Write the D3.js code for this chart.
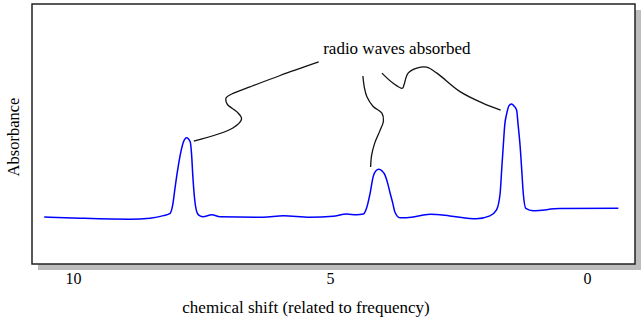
<!DOCTYPE html>
<html>
<head>
<meta charset="utf-8">
<script src="https://cdn.jsdelivr.net/npm/d3@7"></script>
<style>
  body { margin: 0; background: #fff; }
  text { font-family: "Liberation Serif", "Times New Roman", serif; fill: #000; }
</style>
</head>
<body>
<svg id="chart" width="644" height="322"></svg>
<script>
// spectrum: chemical shift (ppm) and absorbance (0-100)
var shift = [10.56, 9.86, 8.89, 8.50, 8.24, 8.11, 8.06, 8.02, 7.97, 7.92, 7.85, 7.79, 7.72, 7.69, 7.67, 7.65, 7.62, 7.58, 7.53, 7.47, 7.30, 7.14,
             6.30, 5.91, 5.39, 4.94, 4.68, 4.48, 4.35, 4.29, 4.22, 4.16, 4.11, 4.05, 3.99, 3.93, 3.88, 3.83, 3.78, 3.74, 3.64, 3.51,
             3.05, 2.67, 2.15, 1.89, 1.76, 1.69, 1.66, 1.63, 1.60, 1.56, 1.52, 1.47, 1.42, 1.37, 1.34, 1.30, 1.27, 1.24, 1.19, 1.05,
             0.53, -0.61]
var absorb = [18.1, 17.6, 17.2, 17.6, 18.6, 19.5, 22.7, 28.5, 35.4, 41.3, 47.0, 48.6, 47.0, 41.3, 34.2, 28.5, 22.7, 19.5, 18.5, 18.2, 18.9, 18.2,
              18.0, 18.6, 18.0, 18.4, 19.2, 18.9, 19.2, 21.4, 27.2, 33.6, 35.8, 36.4, 35.8, 34.2, 31.2, 27.2, 23.5, 20.1, 17.8, 17.8,
              19.1, 18.5, 17.4, 18.5, 20.8, 27.2, 36.2, 45.1, 53.5, 58.0, 60.8, 61.5, 60.8, 59.2, 53.5, 45.1, 36.2, 27.2, 21.4, 20.5,
              21.3, 21.4]

var tickValues = [10, 5, 0]
var xTitle = "chemical shift (related to frequency)"
var yTitle = "Absorbance"
var noteText = "radio waves absorbed"
var notePos = [3.70, 80.8]

// hand-drawn leader lines, in the same units [ppm, absorbance]
var leaders = [
  [[7.65, 47.3], [6.89, 52.3], [6.72, 55.8], [6.81, 58.5], [7.00, 61.5], [7.02, 63.9], [6.91, 65.4], [6.56, 68.1], [5.97, 72.5], [5.22, 77.7]],
  [[4.36, 72.3], [4.33, 67.7], [4.28, 64.2], [4.16, 60.6], [3.99, 58.0], [3.96, 55.0], [4.03, 51.2], [4.13, 46.5], [4.19, 41.9], [4.21, 37.3]],
  [[3.99, 73.4], [3.77, 69.5], [3.59, 67.6], [3.56, 68.9], [3.48, 73.4], [3.31, 75.3], [3.12, 75.7], [2.92, 73.4], [2.47, 66.3], [2.02, 61.8], [1.68, 59.2]]
]

var svg = d3.select("#chart")

var frame = {left: 32, top: 4, right: 635, bottom: 264}

var x = d3.scaleLinear().domain([10, 0]).range([73, 587])
var y = d3.scaleLinear().domain([0, 100]).range([frame.bottom, frame.top])

// drop shadow + box
svg.append("rect")
    .attr("x", frame.left + 6)
    .attr("y", frame.top + 6)
    .attr("width", frame.right - frame.left)
    .attr("height", frame.bottom - frame.top)
    .style("fill", "#bdbdbd")

svg.append("rect")
    .attr("x", frame.left)
    .attr("y", frame.top)
    .attr("width", frame.right - frame.left)
    .attr("height", frame.bottom - frame.top)
    .style("fill", "white")
    .style("stroke", "#222")
    .style("stroke-width", "1.5px")

var pts = shift.map(function(d, i) { return [d, absorb[i]] })

var line = d3.line()
    .x(function(d) { return x(d[0]) })
    .y(function(d) { return y(d[1]) })
    .curve(d3.curveMonotoneX)

svg.append("path")
    .datum(pts)
    .attr("d", line)
    .style("fill", "none")
    .style("stroke", "#0000ff")
    .style("stroke-width", "1.5px")

var leaderLine = d3.line()
    .x(function(d) { return x(d[0]) })
    .y(function(d) { return y(d[1]) })
    .curve(d3.curveCatmullRom.alpha(0.5))

svg.selectAll("path.leader")
    .data(leaders)
    .join("path")
    .classed("leader", true)
    .attr("d", leaderLine)
    .style("fill", "none")
    .style("stroke", "#111")
    .style("stroke-width", "1.3px")

svg.append("text")
    .attr("x", x(notePos[0]))
    .attr("y", y(notePos[1]))
    .attr("text-anchor", "middle")
    .style("font-size", "17px")
    .text(noteText)

// x axis: labels only
var axis = svg.append("g")
    .attr("transform", "translate(0," + frame.bottom + ")")
    .call(d3.axisBottom(x).tickValues(tickValues).tickSize(0).tickPadding(9))

axis.select(".domain").remove()
axis.selectAll("text")
    .style("font-size", "16px")
    .style("font-family", "Liberation Serif, serif")

svg.append("text")
    .attr("x", 306)
    .attr("y", 313)
    .attr("text-anchor", "middle")
    .style("font-size", "17px")
    .text(xTitle)

svg.append("text")
    .attr("transform", "translate(19,137) rotate(-90)")
    .attr("text-anchor", "middle")
    .style("font-size", "16.5px")
    .text(yTitle)
</script>
</body>
</html>
